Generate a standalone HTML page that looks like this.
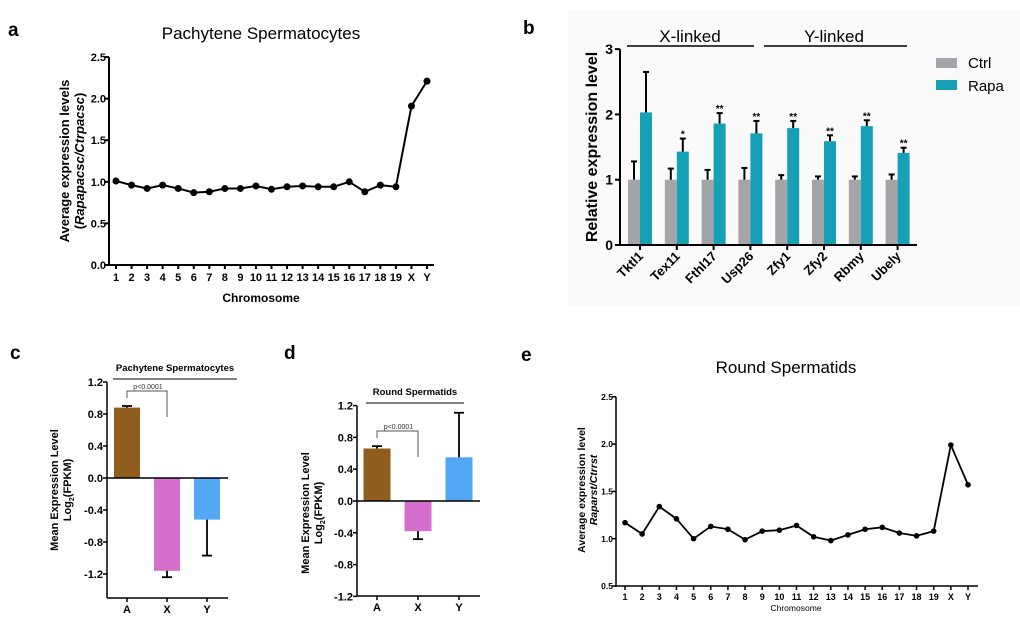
<!DOCTYPE html>
<html><head><meta charset="utf-8"><style>
html,body{margin:0;padding:0;background:#fff}
svg{display:block;font-family:"Liberation Sans",Arial,sans-serif}
</style></head><body>
<svg id="fig" width="1020" height="633" viewBox="0 0 1020 633" xmlns="http://www.w3.org/2000/svg">
<rect x="568" y="10" width="452" height="296" fill="#fafafa"/>
<g id="gA"></g>
<g id="gB"></g>
<g id="gC"></g>
<g id="gD"></g>
<g id="gE"></g>
</svg>
<script>
const chromLabels=["1","2","3","4","5","6","7","8","9","10","11","12","13","14","15","16","17","18","19","X","Y"];
const pachyValues=[1.01,0.96,0.92,0.96,0.92,0.87,0.88,0.92,0.92,0.95,0.91,0.94,0.95,0.94,0.94,1.00,0.88,0.96,0.94,1.91,2.21];
const pachyTicks=["0.0","0.5","1.0","1.5","2.0","2.5"];
const roundValues=[1.17,1.05,1.34,1.21,1.00,1.13,1.10,0.99,1.08,1.09,1.14,1.02,0.98,1.04,1.10,1.12,1.06,1.03,1.08,1.99,1.57];
const roundTicks=["0.5","1.0","1.5","2.0","2.5"];
const genes=["Tktl1","Tex11","Fthl17","Usp26","Zfy1","Zfy2","Rbmy","Ubely"];
const ctrlValues=[1,1,1,1,1,1,1,1];
const ctrlErrTop=[1.28,1.17,1.15,1.18,1.07,1.05,1.05,1.08];
const rapaValues=[2.03,1.43,1.86,1.71,1.79,1.59,1.82,1.41];
const rapaErrTop=[2.65,1.63,2.02,1.90,1.90,1.68,1.91,1.49];
const rapaStars=["","*","**","**","**","**","**","**"];
const bTicks=["0","1","2","3"];
const chrGroups=["A","X","Y"];
const pachyMeans=[0.88,-1.16,-0.52];
const pachyErr=[0.90,-1.24,-0.97];
const roundMeans=[0.66,-0.38,0.55];
const roundErr=[0.69,-0.48,1.11];
const cdTicks=["-1.2","-0.8","-0.4","0.0","0.4","0.8","1.2"];
const groupColors=["#8f5e1f","#d46fcc","#52a8f5"];

const NS="http://www.w3.org/2000/svg";
function mk(p,tag,at,txt){const e=document.createElementNS(NS,tag);for(const k in at)e.setAttribute(k,at[k]);if(txt!==undefined)e.textContent=txt;p.appendChild(e);return e;}
function ln(p,x1,y1,x2,y2,w,c){return mk(p,"line",{x1,y1,x2,y2,stroke:c||"#000","stroke-width":w||1.5});}

function lineChart(g,o){
  const y=v=>o.y0-(v-o.vmin)*o.ppu;
  const x=i=>o.x0+i*o.step;
  let e=ln(g,o.ax,o.y0+1,o.ax,y(o.vmax),o.aw);
  
  
  e=ln(g,o.ax,o.y0,o.axEnd,o.y0,o.aw);
  
  
  o.ticks.forEach(t=>{const v=parseFloat(t);ln(g,o.ax-4,y(v),o.ax,y(v),o.aw);
    e=mk(g,"text",{x:o.ax-3,y:y(v)+o.tfs*0.36,"text-anchor":"end","font-size":o.tfs,"font-weight":"bold"},t);
    
    });
  o.labels.forEach((l,i)=>{ln(g,x(i),o.y0,x(i),o.y0+4,o.aw);
    e=mk(g,"text",{x:x(i),y:o.y0+o.lOff,"text-anchor":"middle","font-size":o.lfs,"font-weight":"bold"},l);
    
    });
  const pts=o.values.map((v,i)=>x(i)+","+y(v)).join(" ");
  e=mk(g,"polyline",{points:pts,fill:"none",stroke:"#000","stroke-width":o.lw});
  
  
  o.values.forEach((v,i)=>{e=mk(g,"circle",{cx:x(i),cy:y(v),r:o.r,fill:"#000"});
    
    });
}

const gA=document.getElementById("gA");
let t=mk(gA,"text",{x:8,y:36,"font-size":19,"font-weight":"bold"},"a");

t=mk(gA,"text",{x:261,y:39,"text-anchor":"middle","font-size":17},"Pachytene Spermatocytes");

lineChart(gA,{ax:109,axEnd:434,y0:265,vmin:0,vmax:2.5,ppu:83.2,x0:116,step:15.55,ticks:pachyTicks,labels:chromLabels,values:pachyValues,tfs:11,lfs:11,lOff:16,aw:2,lw:2,r:3.5});
t=mk(gA,"text",{x:261,y:302,"text-anchor":"middle","font-size":12,"font-weight":"bold"},"Chromosome");

t=mk(gA,"text",{transform:"translate(69,161) rotate(-90)","text-anchor":"middle","font-size":13,"font-weight":"bold"},"Average expression levels");

t=mk(gA,"text",{transform:"translate(84,161) rotate(-90)","text-anchor":"middle","font-size":13,"font-weight":"bold"});
mk(t,"tspan",{},"(");mk(t,"tspan",{"font-style":"italic"},"Rapapacsc/Ctrpacsc");mk(t,"tspan",{},")");


const gB=document.getElementById("gB");
t=mk(gB,"text",{x:523,y:34,"font-size":19,"font-weight":"bold"},"b");

{
  const y0=245,ppu=65.3,ax=620,c0=640,st=36.8,bw=12;
  const y=v=>y0-v*ppu;
  bTicks.forEach(tk=>{const v=+tk;ln(gB,ax-5,y(v),ax,y(v),2);
    t=mk(gB,"text",{x:ax-7,y:y(v)+5,"text-anchor":"end","font-size":14,"font-weight":"bold"},tk);
    });
  genes.forEach((gn,i)=>{
    const cx=c0+i*st;
    let r=mk(gB,"rect",{x:cx-bw,y:y(ctrlValues[i]),width:bw,height:ctrlValues[i]*ppu,fill:"#a5a4a9"});
    
    ln(gB,cx-bw/2,y(ctrlValues[i]),cx-bw/2,y(ctrlErrTop[i]),2);ln(gB,cx-bw/2-3,y(ctrlErrTop[i]),cx-bw/2+3,y(ctrlErrTop[i]),2);
    r=mk(gB,"rect",{x:cx,y:y(rapaValues[i]),width:bw,height:rapaValues[i]*ppu,fill:"#16a0b5"});
    
    ln(gB,cx+bw/2,y(rapaValues[i]),cx+bw/2,y(rapaErrTop[i]),2);ln(gB,cx+bw/2-3,y(rapaErrTop[i]),cx+bw/2+3,y(rapaErrTop[i]),2);
    if(rapaStars[i]){t=mk(gB,"text",{x:cx+bw/2,y:y(rapaErrTop[i])-1,"text-anchor":"middle","font-size":10,"font-weight":"bold"},rapaStars[i]);
      }
    ln(gB,cx,y0,cx,y0+5,2);
    t=mk(gB,"text",{transform:`translate(${cx+4},${y0+12}) rotate(-45)`,"text-anchor":"end","font-size":13,"font-weight":"bold"},gn);
    
  });
  let e=ln(gB,ax,y0,ax,y(3),2);
  e=ln(gB,ax-1,y0,917,y0,2);
  ln(gB,627,46,754,46,1.5);ln(gB,764,46,907,46,1.5);
  t=mk(gB,"text",{x:690,y:42,"text-anchor":"middle","font-size":17},"X-linked");
  
  t=mk(gB,"text",{x:834,y:42,"text-anchor":"middle","font-size":17},"Y-linked");
  
  t=mk(gB,"text",{transform:"translate(597,147) rotate(-90)","text-anchor":"middle","font-size":16,"font-weight":"bold"},"Relative expression level");
  
  let lg=mk(gB,"g",{});
  mk(lg,"rect",{x:936,y:58,width:21,height:10,fill:"#a5a4a9"});mk(lg,"text",{x:968,y:68,"font-size":15},"Ctrl");
  lg=mk(gB,"g",{});
  mk(lg,"rect",{x:936,y:80,width:21,height:10,fill:"#16a0b5"});mk(lg,"text",{x:968,y:91,"font-size":15},"Rapa");
}

function barPanel(g,o){
  const y=v=>o.zero-v*o.ppu;
  cdTicks.forEach(tk=>{const v=parseFloat(tk);ln(g,o.ax-4,y(v),o.ax,y(v),1.5);
    t=mk(g,"text",{x:o.ax-4,y:y(v)+4,"text-anchor":"end","font-size":11,"font-weight":"bold"},tk);
    });
  chrGroups.forEach((c,i)=>{
    const cx=o.c0+i*o.st,m=o.means[i],er=o.err[i];
    const r=mk(g,"rect",{x:cx-o.bw/2,y:Math.min(y(m),o.zero),width:o.bw,height:Math.abs(m)*o.ppu,fill:groupColors[i]});
    
    ln(g,cx,y(m),cx,y(er),1.8);ln(g,cx-5,y(er),cx+5,y(er),1.8);
    ln(g,cx,o.bottom,cx,o.bottom+4,1.5);
    t=mk(g,"text",{x:cx,y:o.bottom+15,"text-anchor":"middle","font-size":11,"font-weight":"bold"},c);
    
  });
  let e=ln(g,o.ax,o.bottom,o.ax,y(1.2),1.5);
  e=ln(g,o.ax,o.bottom,o.axEnd,o.bottom,1.5);
  e=ln(g,o.ax,o.zero,o.axEnd,o.zero,1.5);
  t=mk(g,"text",{x:o.tx,y:o.ty,"text-anchor":"middle","font-size":9.5,"font-weight":"bold"},o.title);
  
  ln(g,o.tl1,o.ty+8,o.tl2,o.ty+8,1);
  const b=mk(g,"polyline",{points:`${o.c0},${o.bk[0]} ${o.c0},${o.bk[1]} ${o.c0+o.st},${o.bk[1]} ${o.c0+o.st},${o.bk[2]}`,fill:"none",stroke:"#555","stroke-width":1});
  
  t=mk(g,"text",{x:o.c0+o.st/2+1,y:o.bk[1]-2,"text-anchor":"middle","font-size":7,fill:"#333"},"p<0.0001");
  
  t=mk(g,"text",{transform:`translate(${o.yx},${o.zero+12}) rotate(-90)`,"text-anchor":"middle","font-size":11,"font-weight":"bold"},"Mean Expression Level");
  
  t=mk(g,"text",{transform:`translate(${o.yx+13},${o.zero+12}) rotate(-90)`,"text-anchor":"middle","font-size":11,"font-weight":"bold"});
  mk(t,"tspan",{},"Log");mk(t,"tspan",{"font-size":7,dy:3},"2");mk(t,"tspan",{dy:-3},"(FPKM)");
  
}
const gC=document.getElementById("gC");
t=mk(gC,"text",{x:10,y:359,"font-size":19,"font-weight":"bold"},"c");

barPanel(gC,{ax:107,axEnd:228,zero:478,ppu:80,bottom:598,c0:127,st:40,bw:26,means:pachyMeans,err:pachyErr,title:"Pachytene Spermatocytes",tx:175,ty:371,tl1:113,tl2:237,bk:[398,391,417],yx:58});
const gD=document.getElementById("gD");
t=mk(gD,"text",{x:284,y:359,"font-size":19,"font-weight":"bold"},"d");

barPanel(gD,{ax:357,axEnd:480,zero:501,ppu:79.5,bottom:596,c0:377,st:41,bw:27,means:roundMeans,err:roundErr,title:"Round Spermatids",tx:415,ty:395,tl1:366,tl2:464,bk:[438,431,457],yx:309});

const gE=document.getElementById("gE");
t=mk(gE,"text",{x:521,y:361,"font-size":19,"font-weight":"bold"},"e");

t=mk(gE,"text",{x:786,y:373,"text-anchor":"middle","font-size":17},"Round Spermatids");

lineChart(gE,{ax:616,axEnd:978,y0:586,vmin:0.5,vmax:2.5,ppu:94.6,x0:625,step:17.15,ticks:roundTicks,labels:chromLabels,values:roundValues,tfs:8.5,lfs:9,lOff:14,aw:1.5,lw:1.8,r:2.8});
t=mk(gE,"text",{x:796,y:611,"text-anchor":"middle","font-size":8.5},"Chromosome");

t=mk(gE,"text",{transform:"translate(585,490) rotate(-90)","text-anchor":"middle","font-size":10.5,"font-weight":"bold"},"Average expression level");

t=mk(gE,"text",{transform:"translate(597,490) rotate(-90)","text-anchor":"middle","font-size":10.5,"font-weight":"bold","font-style":"italic"},"Raparst/Ctrrst");

</script>
</body></html>
